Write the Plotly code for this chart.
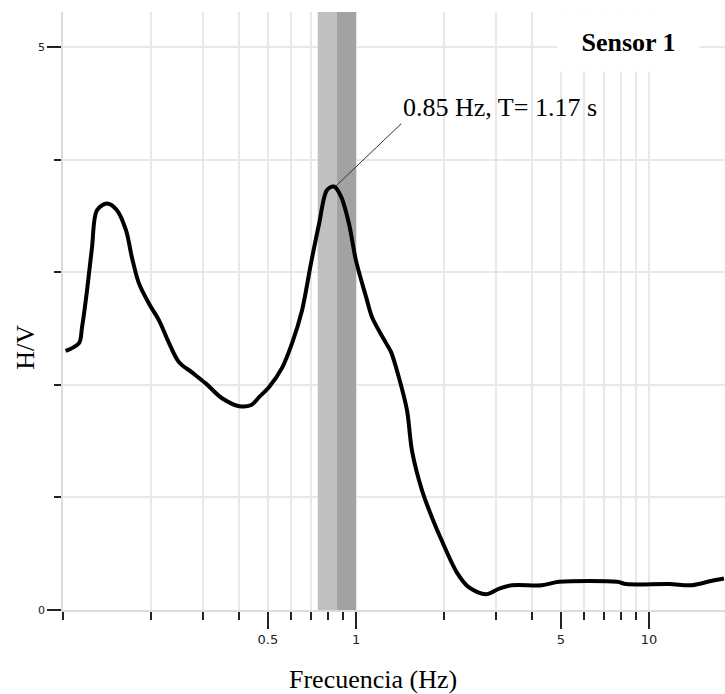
import math
import plotly.graph_objects as go

# ---- data ----
freq = [0.1021, 0.1134, 0.1161, 0.1208, 0.1256, 0.1306, 0.1413, 0.1528, 0.1641, 0.1719,
        0.1816, 0.1966, 0.2128, 0.2301, 0.2489, 0.2755, 0.3076, 0.349, 0.399, 0.4385,
        0.4667, 0.505, 0.559, 0.605, 0.654, 0.702, 0.748, 0.796, 0.841, 0.889,
        0.946, 1.0, 1.082, 1.134, 1.266, 1.317, 1.402, 1.493, 1.553, 1.68,
        1.817, 1.966, 2.212, 2.43, 2.78, 3.08, 3.41, 4.31, 4.93, 7.78,
        8.35, 11.7, 14.0, 16.4, 18.0]
hv = [2.30, 2.37, 2.51, 2.84, 3.22, 3.55, 3.61, 3.55, 3.37, 3.13,
      2.90, 2.72, 2.57, 2.37, 2.20, 2.11, 2.01, 1.88, 1.81, 1.82,
      1.89, 1.98, 2.15, 2.37, 2.66, 3.08, 3.43, 3.73, 3.76, 3.67,
      3.43, 3.10, 2.78, 2.60, 2.37, 2.29, 2.06, 1.77, 1.41, 1.06,
      0.82, 0.61, 0.33, 0.20, 0.14, 0.19, 0.22, 0.22, 0.25, 0.25,
      0.23, 0.23, 0.22, 0.26, 0.28]

band_edges = [0.74, 0.86, 1.0]
band_colors = ["#c0c0c0", "#a2a2a4"]
peak_freq = 0.85
peak_hv = 3.76
peak_period = 1.17

x_major = [0.5, 1, 5, 10]
x_minor = [0.1, 0.2, 0.3, 0.4, 0.6, 0.7, 0.8, 0.9, 2, 3, 4, 6, 7, 8, 9]
y_major = [0, 5]
y_labels = ["0", "5"]
y_range = [0, 5.31]

serif = "Liberation Serif, Times New Roman, serif"
grid_c = "#e8e8e8"

fig = go.Figure()

# shaded peak band (as filled traces so that it sits above the grid)
for i in range(2):
    lo, hi = band_edges[i], band_edges[i + 1]
    fig.add_trace(go.Scatter(x=[lo, lo, hi, hi, lo], y=[y_range[0], y_range[1], y_range[1], y_range[0], y_range[0]],
                             mode="lines", fill="toself", fillcolor=band_colors[i],
                             line=dict(width=0, color=band_colors[i]),
                             showlegend=False, hoverinfo="skip"))

fig.add_trace(go.Scatter(x=freq, y=hv, mode="lines",
                         line=dict(color="black", width=4, shape="spline", smoothing=0.9),
                         showlegend=False, hoverinfo="skip"))

fig.add_annotation(x=math.log10(peak_freq), y=peak_hv, xref="x", yref="y",
                   text=f"{peak_freq:.2f} Hz, T= {peak_period:.2f} s",
                   showarrow=True, arrowhead=0, arrowwidth=1, arrowcolor="#333",
                   ax=66, ay=-63, xanchor="left", yanchor="bottom",
                   font=dict(family=serif, size=26, color="black"))

fig.add_annotation(x=0.854, y=0.95, xref="paper", yref="paper", text="<b>Sensor 1</b>",
                   xanchor="center", yanchor="middle",
                   width=141, height=58, bgcolor="white", borderpad=0,
                   showarrow=False, font=dict(family=serif, size=26, color="black"))

fig.add_annotation(x=0.468, y=-0.116, xref="paper", yref="paper", text="Frecuencia (Hz)",
                   xanchor="center", yanchor="middle",
                   showarrow=False, font=dict(family=serif, size=26, color="black"))
fig.add_annotation(x=-0.056, y=0.44, xref="paper", yref="paper", text="H/V", textangle=-90,
                   xanchor="center", yanchor="middle",
                   showarrow=False, font=dict(family=serif, size=26, color="black"))

fig.update_layout(
    width=725, height=694,
    margin=dict(l=63, r=0, t=12, b=84),
    plot_bgcolor="white", paper_bgcolor="white",
    xaxis=dict(type="log", range=[-1, 1.259],
               tickvals=x_major, ticktext=[str(v) for v in x_major],
               ticks="outside", ticklen=17, tickwidth=1.5, tickcolor="#222",
               showgrid=True, gridcolor=grid_c, gridwidth=1.5,
               showline=True, linecolor="#dcdcdc", linewidth=1.5,
               tickfont=dict(family="DejaVu Sans", size=13, color="#222"),
               zeroline=False,
               minor=dict(tickvals=x_minor, ticks="outside", ticklen=8, tickwidth=1.5,
                          tickcolor="#222", showgrid=True, gridcolor=grid_c, gridwidth=1.5)),
    yaxis=dict(range=y_range,
               tickvals=y_major, ticktext=y_labels,
               ticks="outside", ticklen=14, tickwidth=1.5, tickcolor="#222",
               showgrid=True, gridcolor=grid_c, gridwidth=1.5,
               showline=True, linecolor="#dcdcdc", linewidth=1.5,
               tickfont=dict(family="DejaVu Sans", size=11, color="#222"),
               zeroline=False,
               minor=dict(dtick=1, ticks="outside", ticklen=7, tickwidth=1.5,
                          tickcolor="#222", showgrid=True, gridcolor=grid_c, gridwidth=1.5)),
)

fig.write_html("out.html")
